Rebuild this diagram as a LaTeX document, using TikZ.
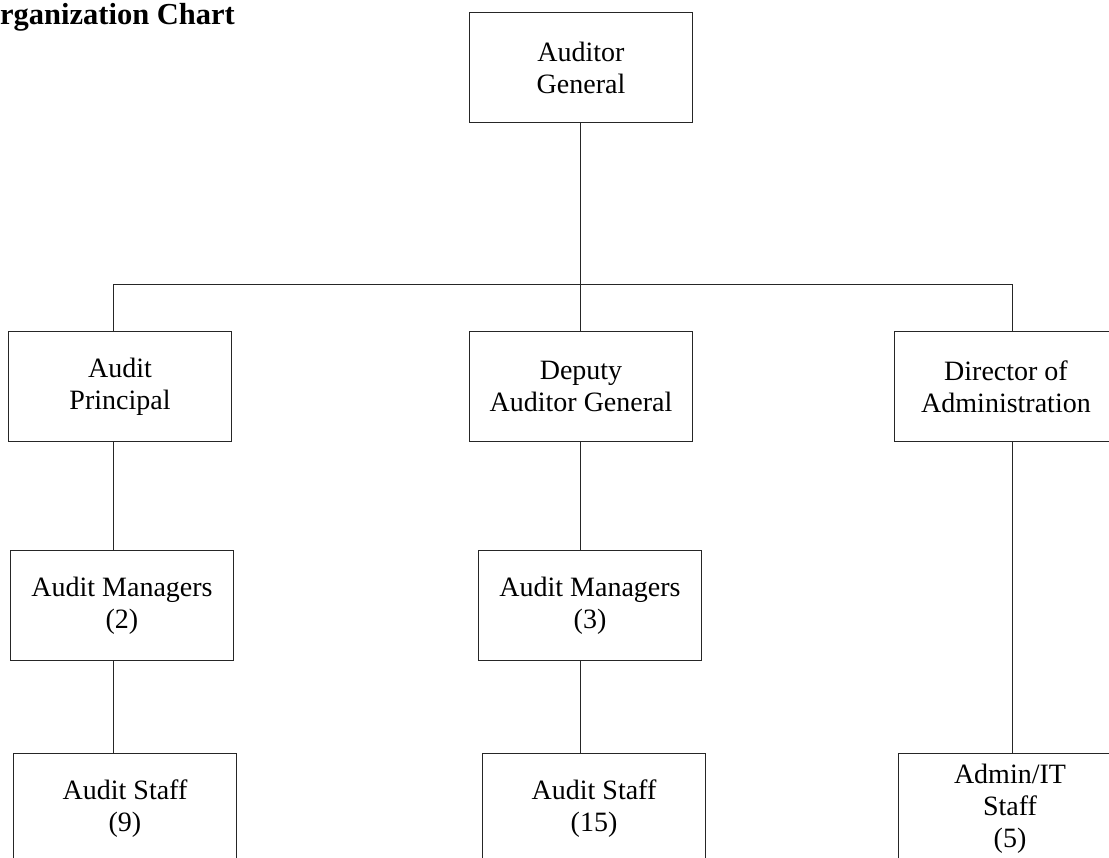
\documentclass[tikz,border=0pt]{standalone}
\usepackage{fontspec}
\setmainfont{Liberation Serif}

\begin{document}
\begin{tikzpicture}
	[
		x = 1pt, y = -1pt,
		box/.style = {shape=rectangle, draw=black!85, line width=1pt, anchor=north west, align=center,
			inner sep=0pt, minimum width=223pt, minimum height=110pt, font=\fontsize{28}{32}\selectfont},
		link/.style = {draw=black!85, line width=1pt}
	]
	
	\useasboundingbox (0, 0) rectangle (1109, 858);
	\clip (0, 0) rectangle (1109, 858);
	
	\node [anchor=base west, inner sep=0pt, font=\bfseries\fontsize{30.5}{34}\selectfont] (title) at (0, 25) {rganization Chart};
	
	\newcommand{\orgbox}[4]{\node [box] (#1) at (#2, #3) {#4}; }
	
	\orgbox{ag}{469}{12}{Auditor\\General}
	
	\orgbox{ap}{8}{331}{Audit\\Principal}
	\orgbox{dag}{469}{331}{Deputy\\Auditor General}
	\orgbox{doa}{894}{331}{Director of\\Administration}
	
	\orgbox{amA}{10}{550}{Audit Managers\\(2)}
	\orgbox{amB}{478}{550}{Audit Managers\\(3)}
	
	\orgbox{asA}{13}{753}{Audit Staff\\(9)}
	\orgbox{asB}{482}{753}{Audit Staff\\(15)}
	\orgbox{it}{898}{753}{Admin/IT\\Staff\\(5)}
	
	\coordinate (busA) at (113, 285);
	\coordinate (busB) at (580, 285);
	\coordinate (busC) at (1012, 285);
	
	\draw [link] (ag.south -| busB) -- (dag.north -| busB);
	\draw [link] (ap.north -| busA) -- (busA) -- (busC) -- (doa.north -| busC);
	
	\draw [link] (ap.south -| busA) -- (amA.north -| busA);
	\draw [link] (amA.south -| busA) -- (asA.north -| busA);
	\draw [link] (dag.south -| busB) -- (amB.north -| busB);
	\draw [link] (amB.south -| busB) -- (asB.north -| busB);
	\draw [link] (doa.south -| busC) -- (it.north -| busC);
\end{tikzpicture}
\end{document}
